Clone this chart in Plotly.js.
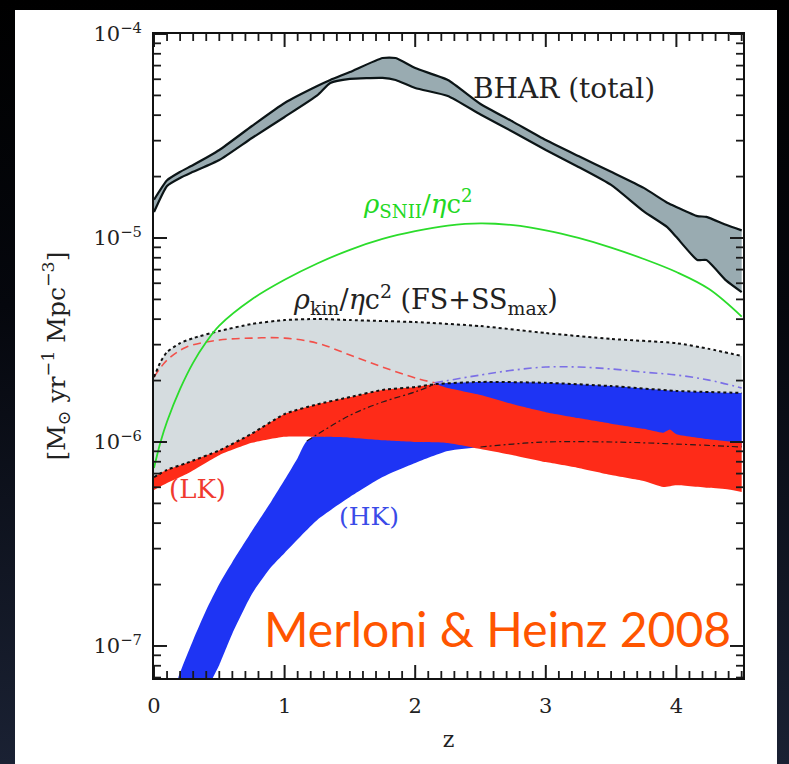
<!DOCTYPE html>
<html>
<head>
<meta charset="utf-8">
<script src="https://cdn.plot.ly/plotly-3.0.1.min.js"></script>
<style>
  html, body { margin: 0; padding: 0; }
  body { width: 789px; height: 764px; overflow: hidden; position: relative;
         background: linear-gradient(to bottom, #000000 0%, #05070d 40%, #1a2133 100%); }
  #chart { position: absolute; left: 15px; top: 10px; width: 762px; height: 754px; background: #ffffff; }
</style>
</head>
<body>
<div id="chart"></div>
<script>
// ---------- data ----------
// BHAR (total) band
const bharZ    = [0, 0.1, 0.2, 0.3, 0.5, 0.75, 1.0, 1.25, 1.35, 1.5, 1.75, 1.85, 2.0, 2.25, 2.5, 2.75, 3.0, 3.25, 3.5, 3.75, 3.93, 4.0, 4.16, 4.23, 4.38, 4.5];
const bharHigh = [1.54e-5, 1.92e-5, 2.11e-5, 2.28e-5, 2.70e-5, 3.54e-5, 4.59e-5, 5.56e-5, 5.95e-5, 6.51e-5, 7.63e-5, 7.63e-5, 6.81e-5, 5.95e-5, 4.54e-5, 3.71e-5, 3.02e-5, 2.52e-5, 2.11e-5, 1.76e-5, 1.49e-5, 1.42e-5, 1.28e-5, 1.27e-5, 1.16e-5, 1.09e-5];
const bharLow  = [1.34e-5, 1.80e-5, 1.97e-5, 2.11e-5, 2.41e-5, 3.09e-5, 3.92e-5, 5.0e-5, 5.75e-5, 6.02e-5, 6.09e-5, 5.95e-5, 5.44e-5, 4.97e-5, 4.03e-5, 3.31e-5, 2.70e-5, 2.23e-5, 1.82e-5, 1.35e-5, 1.13e-5, 1.01e-5, 7.8e-6, 7.8e-6, 6.2e-6, 5.43e-6];

// rho_SNII / eta c^2
const snZ  = [0, 0.05, 0.1, 0.2, 0.3, 0.4, 0.5, 0.75, 1.0, 1.25, 1.5, 1.75, 2.0, 2.25, 2.5, 2.75, 3.0, 3.25, 3.5, 3.75, 4.0, 4.25, 4.5];
const snII = [7.46e-7, 1.0e-6, 1.26e-6, 1.82e-6, 2.45e-6, 3.09e-6, 3.72e-6, 5.01e-6, 6.24e-6, 7.50e-6, 8.75e-6, 9.89e-6, 1.08e-5, 1.15e-5, 1.18e-5, 1.156e-5, 1.09e-5, 1.0e-5, 8.97e-6, 7.89e-6, 6.81e-6, 5.62e-6, 4.12e-6];

// rho_kin / eta c^2 (FS+SS_max) band
const kinUpZ  = [0, 0.05, 0.1, 0.2, 0.3, 0.5, 0.75, 1.0, 1.25, 1.5, 2.0, 2.5, 3.0, 3.5, 4.0, 4.25, 4.5];
const kinUp   = [2.08e-6, 2.47e-6, 2.76e-6, 3.05e-6, 3.23e-6, 3.50e-6, 3.79e-6, 3.96e-6, 4.01e-6, 3.96e-6, 3.87e-6, 3.70e-6, 3.42e-6, 3.20e-6, 3.05e-6, 2.86e-6, 2.64e-6];
const kinLowZ = [0, 0.1, 0.25, 0.5, 0.75, 1.0, 1.25, 1.5, 1.75, 2.0, 2.15, 2.5, 3.0, 3.5, 4.0, 4.5];
const kinLow  = [6.73e-7, 7.30e-7, 7.89e-7, 9.1e-7, 1.10e-6, 1.37e-6, 1.53e-6, 1.66e-6, 1.80e-6, 1.86e-6, 1.92e-6, 1.97e-6, 1.95e-6, 1.88e-6, 1.78e-6, 1.74e-6];

// LK band (red)
const lkTopZ = [0, 0.1, 0.25, 0.5, 0.75, 1.0, 1.25, 1.5, 1.75, 2.0, 2.15, 2.25, 2.5, 2.75, 3.0, 3.25, 3.5, 3.75, 3.9, 3.95, 4.0, 4.25, 4.5];
const lkTop  = [6.73e-7, 7.30e-7, 7.89e-7, 9.1e-7, 1.10e-6, 1.37e-6, 1.53e-6, 1.66e-6, 1.80e-6, 1.86e-6, 1.92e-6, 1.84e-6, 1.70e-6, 1.53e-6, 1.40e-6, 1.31e-6, 1.23e-6, 1.16e-6, 1.11e-6, 1.15e-6, 1.09e-6, 1.03e-6, 9.9e-7];
const lkBotZ = [0, 0.1, 0.25, 0.5, 0.75, 1.0, 1.25, 1.5, 1.75, 2.0, 2.25, 2.5, 2.75, 3.0, 3.25, 3.5, 3.75, 3.9, 4.0, 4.25, 4.4, 4.5];
const lkBot  = [5.82e-7, 6.30e-7, 6.97e-7, 8.62e-7, 9.9e-7, 1.06e-6, 1.06e-6, 1.05e-6, 1.02e-6, 1.0e-6, 9.89e-7, 9.24e-7, 8.62e-7, 7.97e-7, 7.46e-7, 6.89e-7, 6.44e-7, 6.02e-7, 6.14e-7, 5.96e-7, 5.85e-7, 5.69e-7];
const lkDashZ = [0, 0.1, 0.25, 0.5, 0.75, 1.0, 1.25, 1.5, 1.75, 2.0, 2.15];
const lkDash  = [2.08e-6, 2.52e-6, 2.92e-6, 3.16e-6, 3.23e-6, 3.23e-6, 3.05e-6, 2.67e-6, 2.33e-6, 2.06e-6, 1.95e-6];

// HK band (blue)
const hkTopZ = [0.1, 0.18, 0.3, 0.4, 0.5, 0.6, 0.75, 0.9, 1.0, 1.1, 1.17, 1.5, 1.75, 2.0, 2.15, 2.5, 3.0, 3.5, 4.0, 4.5];
const hkTop  = [4.0e-8, 6.8e-8, 1.07e-7, 1.50e-7, 2.01e-7, 2.58e-7, 3.66e-7, 5.14e-7, 6.52e-7, 8.35e-7, 1.01e-6, 1.35e-6, 1.57e-6, 1.76e-6, 1.92e-6, 1.97e-6, 1.95e-6, 1.88e-6, 1.78e-6, 1.74e-6];
const hkBotZ = [0.38, 0.45, 0.5, 0.6, 0.75, 0.9, 1.0, 1.25, 1.5, 1.75, 2.0, 2.25, 2.5, 2.75, 3.0, 3.5, 4.0, 4.5];
const hkBot  = [5.5e-8, 6.97e-8, 8.07e-8, 1.15e-7, 1.80e-7, 2.45e-7, 2.86e-7, 4.15e-7, 5.37e-7, 6.73e-7, 7.89e-7, 9.03e-7, 9.45e-7, 9.77e-7, 1.0e-6, 1.0e-6, 9.77e-7, 9.45e-7];
const hkDashZ = [2.15, 2.5, 2.75, 3.0, 3.25, 3.5, 3.75, 4.0, 4.25, 4.5];
const hkDash  = [1.95e-6, 2.13e-6, 2.25e-6, 2.33e-6, 2.33e-6, 2.28e-6, 2.20e-6, 2.13e-6, 2.01e-6, 1.84e-6];

// ticks
const xTicks = [0, 1, 2, 3, 4];
const yTicks = [1e-7, 1e-6, 1e-5, 1e-4];
const yTickText = ['10<sup>−7</sup>', '10<sup>−6</sup>', '10<sup>−5</sup>', '10<sup>−4</sup>'];
const X_RANGE = [0, 4.51];
const Y_RANGE_LOG = [-7.157, -4];

// ---------- build ----------
const SERIF = 'DejaVu Serif, Liberation Serif, serif';
const pick = (zs, ys, f) => {
  const ox = [], oy = [];
  zs.forEach((z, i) => { if (f(z)) { ox.push(z); oy.push(ys[i]); } });
  return {x: ox, y: oy};
};
const yMinor = [];
[-8, -7, -6, -5].forEach(e => { for (let m = 2; m <= 9; m++) yMinor.push(m * Math.pow(10, e)); });
const xMinor = [];
for (let i = 1; i <= 45; i++) { if (i % 10 !== 0) xMinor.push(i / 10); }

const traces = [];
const band = (zt, yt, zb, yb, color, sm) => {
  traces.push({x: zt, y: yt, mode: 'lines', line: {width: 0, shape: 'spline', smoothing: sm}, hoverinfo: 'skip', showlegend: false});
  traces.push({x: zb, y: yb, mode: 'lines', fill: 'tonexty', fillcolor: color, line: {width: 0, shape: 'spline', smoothing: sm}, hoverinfo: 'skip', showlegend: false});
};
band(kinUpZ, kinUp, kinLowZ, kinLow, '#d5dcdf', 0.6);
band(hkTopZ, hkTop, hkBotZ, hkBot, '#1e34f4', 0.6);
band(lkTopZ, lkTop, lkBotZ, lkBot, '#fe2b18', 0.5);
band(bharZ, bharHigh, bharZ, bharLow, '#99abb1', 0.5);

// hidden HK edges under the LK band (black dash-dot)
const hkEdge1 = pick(hkTopZ, hkTop, z => z >= 1.17 && z <= 2.15);
const hkEdge2 = pick(hkBotZ, hkBot, z => z >= 2.5);
traces.push({x: hkEdge1.x, y: hkEdge1.y, mode: 'lines', line: {color: '#2a1a1a', width: 1.2, dash: '6px,3px,2px,3px', shape: 'spline'}, showlegend: false});
traces.push({x: hkEdge2.x, y: hkEdge2.y, mode: 'lines', line: {color: '#2a1a1a', width: 1.2, dash: '6px,3px,2px,3px', shape: 'spline'}, showlegend: false});
traces.push({x: lkDashZ, y: lkDash, mode: 'lines', line: {color: '#f2504a', width: 1.6, dash: '8px,5px', shape: 'spline'}, showlegend: false});
traces.push({x: hkDashZ, y: hkDash, mode: 'lines', line: {color: '#7b6fe6', width: 1.6, dash: '8px,4px,2px,4px', shape: 'spline'}, showlegend: false});
traces.push({x: kinUpZ, y: kinUp, mode: 'lines', line: {color: '#111', width: 2, dash: 'dot', shape: 'spline', smoothing: 0.6}, showlegend: false});
traces.push({x: kinLowZ, y: kinLow, mode: 'lines', line: {color: '#111', width: 2, dash: 'dot', shape: 'spline', smoothing: 0.6}, showlegend: false});
traces.push({x: snZ, y: snII, mode: 'lines', line: {color: '#2bdc2b', width: 1.8, shape: 'spline'}, showlegend: false});
traces.push({x: bharZ, y: bharHigh, mode: 'lines', line: {color: '#0b1416', width: 2.2, shape: 'spline', smoothing: 0.5}, showlegend: false});
traces.push({x: bharZ, y: bharLow, mode: 'lines', line: {color: '#0b1416', width: 2.2, shape: 'spline', smoothing: 0.5}, showlegend: false});

// layout geometry (page pixels; chart div sits at left 15, top 10)
const OX = 15, OY = 10, W = 762, H = 754;
const L = 154, R = 743, T = 34, B = 678;
const pxPerX = (R - L) / (X_RANGE[1] - X_RANGE[0]);
const pxPerDec = (B - T) / (Y_RANGE_LOG[1] - Y_RANGE_LOG[0]);

// inside tick marks on all four sides, drawn as line segments on the axes' own scales
const tickSegs = (len, xs, ys) => {
  const ox = [], oy = [];
  const dy = len / pxPerDec, dx = len / pxPerX;
  xs.forEach(v => {
    ox.push(v, v, null, v, v, null);
    oy.push(Math.pow(10, Y_RANGE_LOG[0]), Math.pow(10, Y_RANGE_LOG[0] + dy), null,
            Math.pow(10, Y_RANGE_LOG[1] - dy), Math.pow(10, Y_RANGE_LOG[1]), null);
  });
  ys.forEach(v => {
    if (v < Math.pow(10, Y_RANGE_LOG[0]) || v > Math.pow(10, Y_RANGE_LOG[1])) return;
    ox.push(X_RANGE[0], X_RANGE[0] + dx, null, X_RANGE[1] - dx, X_RANGE[1], null);
    oy.push(v, v, null, v, v, null);
  });
  return {x: ox, y: oy};
};
const majorSegs = tickSegs(13, xTicks, yTicks);
const minorSegs = tickSegs(7, xMinor, yMinor);
traces.push({x: majorSegs.x, y: majorSegs.y, mode: 'lines', connectgaps: false, line: {color: '#1a1a1a', width: 2}, hoverinfo: 'skip', showlegend: false});
traces.push({x: minorSegs.x, y: minorSegs.y, mode: 'lines', connectgaps: false, line: {color: '#1a1a1a', width: 1.8}, hoverinfo: 'skip', showlegend: false});

const px = v => (v - L) / (R - L);
const py = v => (B - v) / (B - T);
const ann = (text, x, y, size, color, family) => ({
  text, x: px(x), y: py(y), xref: 'paper', yref: 'paper', showarrow: false,
  xanchor: 'center', yanchor: 'middle', font: {family: family || SERIF, size, color}
});

const layout = {
  width: W, height: H,
  margin: {l: L - OX, r: OX + W - R, t: T - OY, b: OY + H - B, pad: 0},
  paper_bgcolor: '#ffffff',
  plot_bgcolor: '#ffffff',
  showlegend: false,
  xaxis: {
    range: X_RANGE, tickmode: 'array', tickvals: xTicks, ticktext: xTicks.map(String),
    ticks: '', showline: true, linewidth: 2, linecolor: '#111', mirror: true,
    showgrid: false, zeroline: false, ticklabelstandoff: 8,
    tickfont: {family: SERIF, size: 21, color: '#222'},
    title: {text: 'z', font: {family: SERIF, size: 22, color: '#222'}, standoff: 14}
  },
  yaxis: {
    type: 'log', range: Y_RANGE_LOG, tickmode: 'array', tickvals: yTicks, ticktext: yTickText,
    ticks: '', showline: true, linewidth: 2, linecolor: '#111', mirror: true,
    showgrid: false, zeroline: false, ticklabelstandoff: 6,
    tickfont: {family: SERIF, size: 21, color: '#222'},
    title: {text: '[M<sub>⊙</sub> yr<sup>−1</sup> Mpc<sup>−3</sup>]', font: {family: SERIF, size: 25, color: '#222'}, standoff: 21}
  },
  annotations: [
    ann('BHAR (total)', 564, 88, 28, '#222'),
    ann('<i>ρ</i><sub>SNII</sub>/<i>η</i>c<sup>2</sup>', 418, 203, 26, '#22d822'),
    ann('<i>ρ</i><sub>kin</sub>/<i>η</i>c<sup>2</sup> (FS+SS<sub>max</sub>)', 425, 300, 27, '#222'),
    ann('(LK)', 197, 489, 26, '#f03a2e'),
    ann('(HK)', 369, 516, 25, '#3a4be8'),
    ann('Merloni &amp; Heinz 2008', 497, 628, 48, '#ff5500', 'Lato, Open Sans, sans-serif')
  ]
};

Plotly.newPlot('chart', traces, layout, {displayModeBar: false, staticPlot: true});
</script>
</body>
</html>
